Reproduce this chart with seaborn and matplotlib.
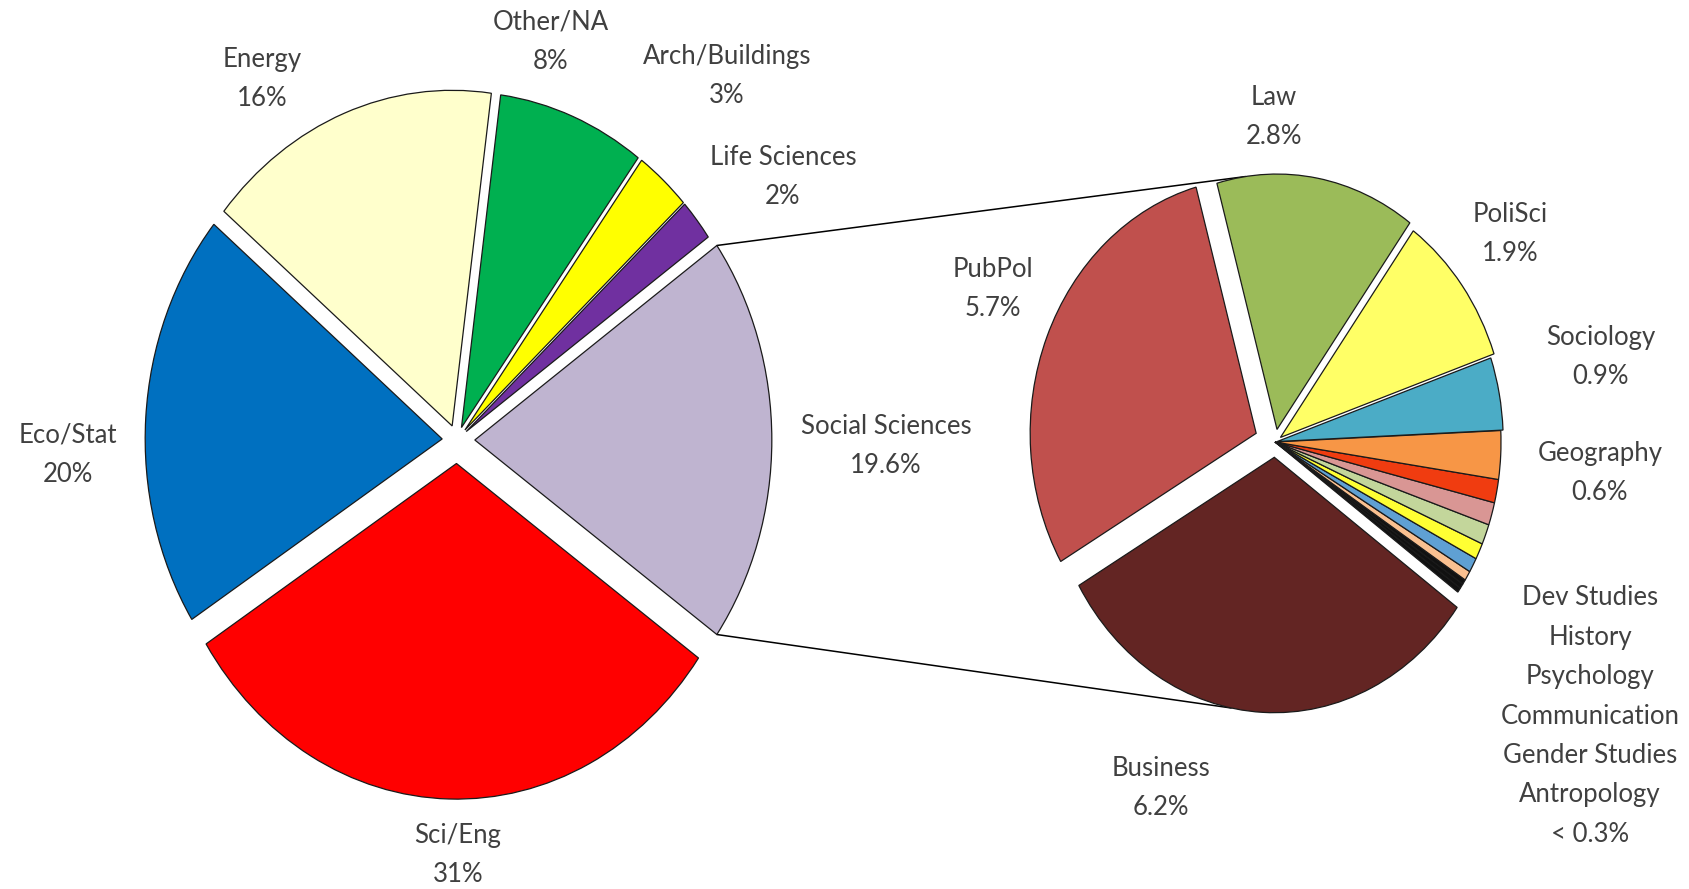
import matplotlib
matplotlib.use("Agg")
import numpy as np
import matplotlib.pyplot as plt
import seaborn as sns

sns.set_theme(style="white")
plt.rcParams["font.family"] = ["Lato", "DejaVu Sans"]

# Primary pie: share by field (%), drawn counter-clockwise
main_fields = ["Social Sciences", "Life Sciences", "Arch/Buildings", "Other/NA",
               "Energy", "Eco/Stat", "Sci/Eng"]
main_shares = [19.6, 2, 3, 8, 16, 20, 31]
main_colors = ["#BFB4D0", "#7030A0", "#FFFF00", "#00B050",
               "#FFFFCC", "#0070C0", "#FF0000"]

# Secondary pie: breakdown of Social Sciences (%), drawn counter-clockwise
social_fields = ["Law", "PubPol", "Business", "Misc A", "Misc B", "Misc C",
                 "Antropology", "Gender Studies", "Communication", "Psychology",
                 "History", "Dev Studies", "Geography", "Sociology", "PoliSci"]
social_shares = [2.8, 5.7, 6.2, 0.06, 0.06, 0.06,
                 0.12, 0.18, 0.2, 0.25,
                 0.28, 0.29, 0.6, 0.9, 1.9]
social_colors = ["#9BBB59", "#C0504D", "#632523", "#111111", "#111111", "#111111",
                 "#FAC090", "#5FA0D3", "#FFFF33", "#C3D69B",
                 "#D99694", "#F03C10", "#F79646", "#4BACC6", "#FFFF66"]

# Fields with their own label on the secondary pie; the rest share one label
social_labeled = ["Law", "PubPol", "Business", "Geography", "Sociology", "PoliSci"]
small_group = ["Dev Studies", "History", "Psychology", "Communication",
               "Gender Studies", "Antropology"]
small_group_note = "< 0.3%"

# ---- layout -------------------------------------------------------------
W, H = 1690, 889
YS = 1.13  # vertical stretch of the pies


def to_data(px, py):
    return px, (H - py) / YS


main_explode_frac = [0.06, 0.04, 0.04, 0.04, 0.045, 0.05, 0.07]
social_explode_frac = [0.05, 0.09, 0.06, 0, 0, 0, 0, 0, 0, 0, 0, 0, 0, 0.01, 0.03]
R_MAIN, R_SOC = 297, 226
TEXT = "#404040"
edge = dict(edgecolor="#1A1A1A", linewidth=0.9)

fig = plt.figure(figsize=(W / 100, H / 100), dpi=100)
ax = fig.add_axes([0, 0, 1, 1])

main_start = -main_shares[0] / sum(main_shares) * 180
w_main, _ = ax.pie(main_shares, colors=main_colors,
                   explode=[f * R_MAIN for f in main_explode_frac],
                   startangle=main_start, center=to_data(457, 440),
                   radius=R_MAIN, wedgeprops=edge)

w_soc, _ = ax.pie(social_shares, colors=social_colors,
                  explode=[f * R_SOC for f in social_explode_frac],
                  startangle=54, center=to_data(1275, 442),
                  radius=R_SOC, wedgeprops=edge)

ax.set_xlim(0, W)
ax.set_ylim(0, H / YS)
ax.set_aspect("auto")
ax.axis("off")


def arc_point(w, deg):
    cx, cy = w.center
    t = np.deg2rad(deg)
    return cx + w.r * np.cos(t), cy + w.r * np.sin(t)


# connector lines from the Social Sciences slice to the breakdown pie
soc = w_main[0]
p_top, p_bot = arc_point(soc, soc.theta2), arc_point(soc, soc.theta1)
q_top = arc_point(w_soc[social_fields.index("Law")], 98)
q_bot = arc_point(w_soc[social_fields.index("Business")], 259)
for p, q in ((p_top, q_top), (p_bot, q_bot)):
    ax.plot([p[0], q[0]], [p[1], q[1]], color="black", lw=1.1, zorder=0)

# ---- labels -------------------------------------------------------------
main_label_pos = {
    "Social Sciences": (886, 446), "Life Sciences": (783, 177),
    "Arch/Buildings": (727, 76), "Other/NA": (551, 42),
    "Energy": (262, 79), "Eco/Stat": (68, 455), "Sci/Eng": (458, 855),
}
social_label_pos = {
    "Law": (1274, 117), "PoliSci": (1510, 234), "PubPol": (993, 289),
    "Sociology": (1601, 357), "Geography": (1600, 473), "Business": (1161, 788),
}
txt = dict(ha="center", va="center", multialignment="center",
           fontsize=18.5, color=TEXT, linespacing=1.72)

for name, val in zip(main_fields, main_shares):
    x, y = to_data(*main_label_pos[name])
    ax.text(x, y, f"{name}\n{val:g}%", **txt)

for name in social_labeled:
    val = social_shares[social_fields.index(name)]
    x, y = to_data(*social_label_pos[name])
    ax.text(x, y, f"{name}\n{val:g}%", **txt)

x, y = to_data(1590, 716)
ax.text(x, y, "\n".join(small_group + [small_group_note]), **txt)

fig.savefig("out.png", dpi=100, facecolor="white")
